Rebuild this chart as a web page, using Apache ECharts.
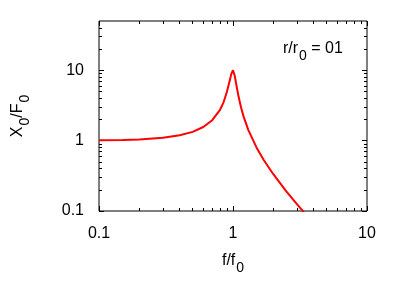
<!DOCTYPE html>
<html><head><meta charset="utf-8">
<script src="https://cdn.jsdelivr.net/npm/echarts@6/dist/echarts.min.js"></script>
<style>html,body{margin:0;padding:0;background:#fff}#c{width:400px;height:300px}</style>
</head><body><div id="c"></div>
<script>
// frequency ratio f/f0
const freq = [0.1, 0.15, 0.2, 0.3, 0.4, 0.5, 0.6, 0.7, 0.8, 0.85, 0.9, 0.95, 0.97, 1.0, 1.03, 1.05, 1.1, 1.15, 1.2, 1.3, 1.5, 1.7, 2.0, 2.5, 3.0, 3.3, 3.5];
// amplitude ratio X0/F0
const amp = [1.01, 1.02, 1.04, 1.10, 1.19, 1.33, 1.56, 1.95, 2.74, 3.5, 4.9, 7.35, 8.8, 10.0, 8.35, 6.8, 4.22, 2.92, 2.19, 1.42, 0.794, 0.527, 0.333, 0.19, 0.125, 0.101, 0.089];
const xMajor = [0.1, 1, 10];
const xMinor = [0.2, 0.3, 0.4, 0.5, 0.6, 0.7, 0.8, 0.9, 2, 3, 4, 5, 6, 7, 8, 9];
const yMajor = [0.1, 1, 10];
const yMinor = [0.2, 0.3, 0.4, 0.5, 0.6, 0.7, 0.8, 0.9, 2, 3, 4, 5, 6, 7, 8, 9, 20, 30, 40];
const annotation = ['r/r', '0', ' = 01'];

const FONT = '"Liberation Sans", Arial, sans-serif';
const richSub = {
  n: { fontSize: 16, fontFamily: FONT, color: '#000', verticalAlign: 'top', padding: [0, 0, 0, 0] },
  s: { fontSize: 14, fontFamily: FONT, color: '#000', verticalAlign: 'top', padding: [8, 0, 0, 1] }
};

function xAx(pos, ticks, len, labels, extra) {
  return Object.assign({
    type: 'log', logBase: 10, min: 0.1, max: 10, position: pos,
    axisLine: { show: false },
    splitLine: { show: false },
    axisTick: { show: true, inside: true, length: len, customValues: ticks, lineStyle: { color: '#000', width: 1 } },
    axisLabel: labels ? { show: true, customValues: xMajor, fontSize: 16, fontFamily: FONT, color: '#000', margin: 15 } : { show: false }
  }, extra || {});
}
function yAx(pos, ticks, len, labels, extra) {
  return Object.assign({
    type: 'log', logBase: 10, min: 0.1, max: 50, position: pos,
    axisLine: { show: false },
    splitLine: { show: false },
    axisTick: { show: true, inside: true, length: len, customValues: ticks, lineStyle: { color: '#000', width: 1 } },
    axisLabel: labels ? { show: true, customValues: yMajor, fontSize: 16, fontFamily: FONT, color: '#000', margin: 15 } : { show: false }
  }, extra || {});
}

const chart = echarts.init(document.getElementById('c'), null, { renderer: 'canvas' });
chart.setOption({
  animation: false,
  backgroundColor: '#fff',
  grid: { left: 99, right: 33, top: 21, bottom: 89, show: true, borderColor: '#000', borderWidth: 1, backgroundColor: 'transparent' },
  xAxis: [
    xAx('bottom', xMajor, 5, true, {
      name: '{n|f/f}{s|0}', nameLocation: 'middle', nameGap: 42,
      nameTextStyle: { rich: richSub }
    }),
    xAx('bottom', xMinor, 3, false),
    xAx('top', xMajor, 5, false),
    xAx('top', xMinor, 3, false)
  ],
  yAxis: [
    yAx('left', yMajor, 5, true, {
      name: '{n|X}{s|0}{n|/F}{s|0}', nameLocation: 'middle', nameGap: 67,
      nameTextStyle: { rich: richSub }
    }),
    yAx('left', yMinor, 3, false),
    yAx('right', yMajor, 5, false),
    yAx('right', yMinor, 3, false)
  ],
  series: [{
    type: 'line', xAxisIndex: 0, yAxisIndex: 0,
    data: freq.map((f, i) => [f, amp[i]]),
    showSymbol: false, symbol: 'none', smooth: false, clip: true,
    lineStyle: { color: '#ff0000', width: 2 }
  }],
  graphic: [{
    type: 'text', left: 283, top: 41,
    style: {
      text: '{n|' + annotation[0] + '}{s|' + annotation[1] + '}{n|' + annotation[2] + '}',
      rich: richSub
    }
  }]
});
</script></body></html>
